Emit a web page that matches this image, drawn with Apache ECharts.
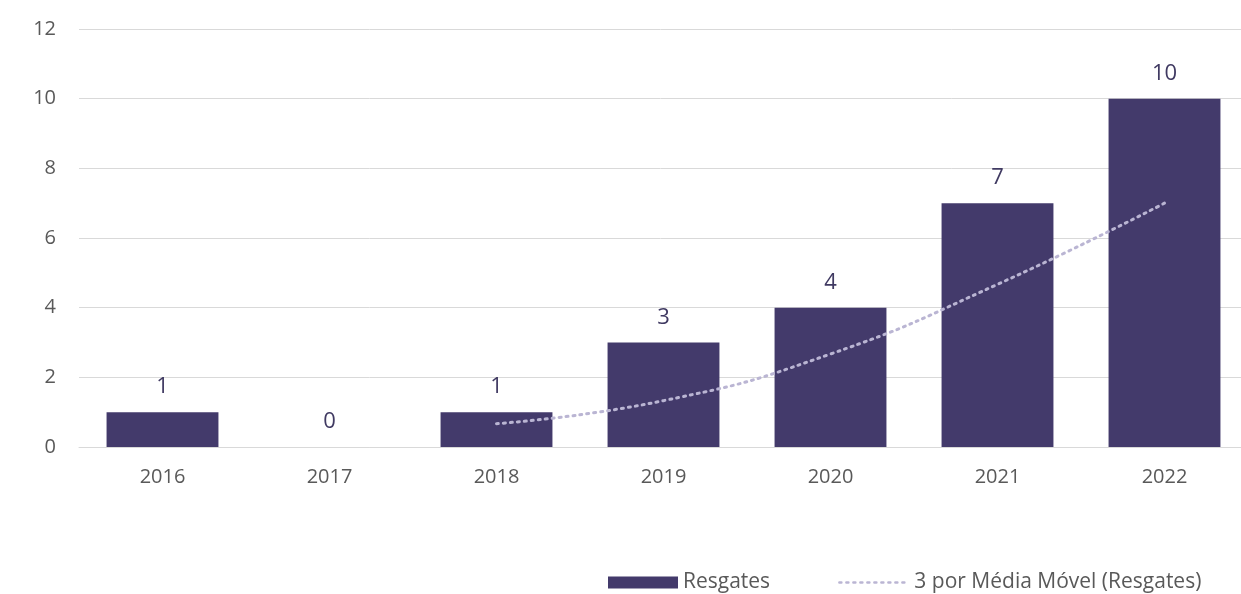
<!DOCTYPE html>
<html>
<head>
<meta charset="utf-8">
<script src="https://cdn.jsdelivr.net/npm/echarts@6/dist/echarts.min.js"></script>
<style>
  html, body { margin: 0; padding: 0; background: #ffffff; }
  #chart { width: 1241px; height: 594px; }
</style>
</head>
<body>
<div id="chart"></div>
<script>
// Annual rescues and their 3-period moving average
const years = ['2016', '2017', '2018', '2019', '2020', '2021', '2022'];
const resgates = [1, 0, 1, 3, 4, 7, 10];
const mediaMovel = [null, null, 0.67, 1.33, 2.67, 4.67, 7];
const yTicks = { min: 0, max: 12, interval: 2 };

const barColor = '#433a6b';
const trendColor = '#bab5d3';
const fontFamily = '"Open Sans", "Noto Sans", sans-serif';

const chart = echarts.init(document.getElementById('chart'));
chart.setOption({
  animation: false,
  textStyle: { fontFamily: fontFamily },
  grid: {
    left: 79, top: 29, width: 1169, height: 418,
    containLabel: false,
    outerBoundsMode: 'none'
  },
  legend: {
    bottom: -4,
    left: 603,
    itemGap: 68,
    itemWidth: 70,
    itemHeight: 12,
    textStyle: { fontSize: 21, color: '#595959', fontFamily: fontFamily },
    data: [
      { name: 'Resgates', icon: 'rect' },
      {
        name: '3 por Média Móvel (Resgates)',
        itemStyle: { opacity: 0 },
        lineStyle: { color: trendColor, width: 2.5, type: [2, 5], cap: 'round' }
      }
    ]
  },
  xAxis: {
    type: 'category',
    data: years,
    axisTick: { show: false },
    axisLine: { lineStyle: { color: '#d9d9d9', width: 1 } },
    axisLabel: { color: '#595959', fontSize: 20, margin: 20 }
  },
  yAxis: {
    type: 'value',
    min: yTicks.min,
    max: yTicks.max,
    interval: yTicks.interval,
    axisLine: { show: false },
    axisTick: { show: false },
    splitLine: { lineStyle: { color: '#d9d9d9', width: 1 } },
    axisLabel: { color: '#595959', fontSize: 20, margin: 23 }
  },
  series: [
    {
      name: 'Resgates',
      type: 'bar',
      data: resgates,
      barWidth: '67%',
      itemStyle: { color: barColor },
      label: {
        show: true,
        position: 'top',
        distance: 14,
        color: '#403a62',
        fontSize: 22
      }
    },
    {
      name: '3 por Média Móvel (Resgates)',
      type: 'line',
      data: mediaMovel,
      smooth: 0.5,
      showSymbol: false,
      symbol: 'none',
      itemStyle: { color: trendColor },
      lineStyle: { color: trendColor, width: 3, type: [2, 5], cap: 'round' },
      z: 3
    }
  ]
});
</script>
</body>
</html>
